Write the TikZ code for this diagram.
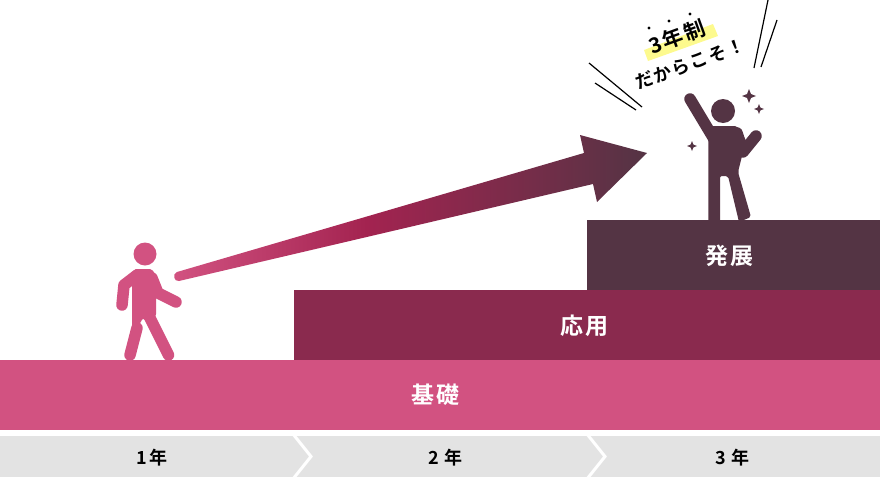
\documentclass[tikz,border=0pt]{standalone}
\usepackage{fontspec}
\usepackage{xcolor}
\newfontfamily\jpfont[LetterSpace=8]{Noto Sans CJK JP Bold}
\definecolor{kisoPink}{HTML}{D25281}
\definecolor{crimsonMid}{HTML}{A32350}
\definecolor{oyoRed}{HTML}{8A2A4E}
\definecolor{hattenDark}{HTML}{543444}
\definecolor{yearGray}{HTML}{E3E3E3}
\definecolor{markerYellow}{HTML}{FDFA8E}
\pgfdeclarehorizontalshading{growth-shade}{100bp}{color(0bp)=(kisoPink); color(25bp)=(kisoPink); color(45.5bp)=(crimsonMid); color(75bp)=(hattenDark); color(100bp)=(hattenDark)}
\tikzset{
    level-box/.style = {rectangle, inner sep=0pt, anchor=north west, minimum height=70pt},
    level-title/.style = {text=white, font=\jpfont\fontsize{23}{26}\selectfont},
    year-title/.style = {text=black, font=\jpfont\fontsize{18}{22}\selectfont},
    year-cut/.style = {draw=white, line width=3pt, miter limit=10},
    shout-title/.style = {text=black, rotate=20, font=\jpfont\fontsize{18}{22}\selectfont},
    shout-line/.style = {draw=black, line width=1.2pt},
    limb/.style = {line width=11.5pt, line cap=round, line join=round},
}
\begin{document}
\begin{tikzpicture}[x=1pt,y=-1pt]
\useasboundingbox (0,0) rectangle (880,477);
\node [level-box, fill=kisoPink, minimum width=880pt] (kiso) at (0,360) {};
\node [level-box, fill=oyoRed, minimum width=586pt] (oyo) at (294,290) {};
\node [level-box, fill=hattenDark, minimum width=293pt] (hatten) at (587,220) {};
\node [level-title] (kisoTitle) at (435.5,395) {基礎};
\node [level-title] (oyoTitle) at (584.5,326) {応用};
\node [level-title] (hattenTitle) at (729.5,256) {発展};

\fill [yearGray] (0,436) rectangle (880,477);
\draw [year-cut] (293,434) -- (311,456.5) -- (293,479);
\draw [year-cut] (587,434) -- (605,456.5) -- (587,479);
\node [year-title] (yearOne) at (152,458) {1年};
\node [year-title] (yearTwo) at (445.5,458) {2 年};
\node [year-title] (yearThree) at (732.5,458) {3 年};

\shade [shading=growth-shade] (177,272) .. controls (172,274) and (174,282) .. (179,281) -- (593,184) -- (597,202) -- (647,153) -- (580,135) -- (584,153) -- cycle;

\fill [kisoPink] (145,254) circle (11.5);
\fill [kisoPink, rounded corners=2pt] (134,269) -- (152,269) -- (156,276) -- (156,316) -- (150,325) -- (143,318) -- (135,332) -- (132,330) -- (132,280) -- cycle;
\draw [limb, kisoPink] (137,275) -- (124,285) -- (122,305);
\draw [limb, kisoPink] (152,278) -- (158,293) -- (176,302);
\draw [limb, kisoPink] (137,328) -- (130,355);
\draw [limb, kisoPink] (149,316) -- (168.5,355);

\fill [hattenDark] (723,111) circle (12);
\fill [hattenDark, rounded corners=2pt] (708.3,222) -- (708.3,140) -- (711,126) -- (737,126) -- (746,140) -- (738,172) -- (751,217) -- (739,222) -- (728,176) -- (720,176) -- (720,222) -- cycle;
\draw [limb, hattenDark] (690,99) -- (714,139);
\draw [limb, hattenDark] (737,133) -- (743,152) -- (756,136);
\foreach \sx/\sy/\sr in {749/96/7, 759/109/5, 692/146/5}
    \fill [hattenDark] (\sx-\sr,\sy) -- (\sx-.28*\sr,\sy-.28*\sr) -- (\sx,\sy-\sr) -- (\sx+.28*\sr,\sy-.28*\sr) -- (\sx+\sr,\sy) -- (\sx+.28*\sr,\sy+.28*\sr) -- (\sx,\sy+\sr) -- (\sx-.28*\sr,\sy+.28*\sr) -- cycle;

\fill [markerYellow] (644,50) -- (713,24) -- (718,36) -- (648,61) -- cycle;
\node [shout-title, font=\jpfont\fontsize{21}{24}\selectfont] (shoutTop) at (677,37) {3年制};
\node [shout-title] (shoutBottom) at (690,64) {だからこそ！};
\foreach \dx/\dy in {649/28, 669/21, 690/14}
    \fill [black] (\dx,\dy) circle (1.7);
\draw [shout-line] (768,0) -- (754,68);
\draw [shout-line] (777,20) -- (761,67);
\draw [shout-line] (589,63) -- (642,107);
\draw [shout-line] (595,83) -- (636,110);
\end{tikzpicture}
\end{document}
